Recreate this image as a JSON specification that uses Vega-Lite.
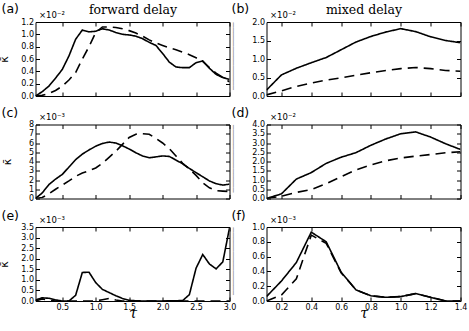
{
  "$schema": "https://vega.github.io/schema/vega-lite/v6.json",
  "autosize": {"type": "none"},
  "padding": {"left": 35.5, "top": 22, "right": 433.5, "bottom": 309},
  "background": "white",
  "datasets": {
    "a": [
      {"tau":0.1,"k":0,"s":"solid"},{"tau":0.2,"k":0.07,"s":"solid"},{"tau":0.3,"k":0.16,"s":"solid"},{"tau":0.4,"k":0.29,"s":"solid"},{"tau":0.5,"k":0.43,"s":"solid"},{"tau":0.6,"k":0.65,"s":"solid"},{"tau":0.7,"k":0.92,"s":"solid"},{"tau":0.8,"k":1.07,"s":"solid"},{"tau":0.9,"k":1.04,"s":"solid"},{"tau":1.0,"k":1.05,"s":"solid"},{"tau":1.1,"k":1.09,"s":"solid"},{"tau":1.2,"k":1.07,"s":"solid"},{"tau":1.3,"k":1.03,"s":"solid"},{"tau":1.4,"k":1.0,"s":"solid"},{"tau":1.5,"k":0.99,"s":"solid"},{"tau":1.6,"k":0.97,"s":"solid"},{"tau":1.7,"k":0.93,"s":"solid"},{"tau":1.8,"k":0.87,"s":"solid"},{"tau":1.9,"k":0.82,"s":"solid"},{"tau":2.0,"k":0.69,"s":"solid"},{"tau":2.1,"k":0.55,"s":"solid"},{"tau":2.2,"k":0.47,"s":"solid"},{"tau":2.3,"k":0.46,"s":"solid"},{"tau":2.4,"k":0.46,"s":"solid"},{"tau":2.5,"k":0.54,"s":"solid"},{"tau":2.6,"k":0.57,"s":"solid"},{"tau":2.7,"k":0.45,"s":"solid"},{"tau":2.8,"k":0.35,"s":"solid"},{"tau":2.9,"k":0.3,"s":"solid"},{"tau":3.0,"k":0.27,"s":"solid"},
      {"tau":0.1,"k":0,"s":"dashed"},{"tau":0.2,"k":0.01,"s":"dashed"},{"tau":0.3,"k":0.04,"s":"dashed"},{"tau":0.4,"k":0.09,"s":"dashed"},{"tau":0.5,"k":0.16,"s":"dashed"},{"tau":0.6,"k":0.26,"s":"dashed"},{"tau":0.7,"k":0.38,"s":"dashed"},{"tau":0.8,"k":0.6,"s":"dashed"},{"tau":0.9,"k":0.8,"s":"dashed"},{"tau":1.0,"k":1.03,"s":"dashed"},{"tau":1.1,"k":1.12,"s":"dashed"},{"tau":1.2,"k":1.12,"s":"dashed"},{"tau":1.3,"k":1.11,"s":"dashed"},{"tau":1.4,"k":1.09,"s":"dashed"},{"tau":1.5,"k":1.06,"s":"dashed"},{"tau":1.6,"k":1.02,"s":"dashed"},{"tau":1.7,"k":0.97,"s":"dashed"},{"tau":1.8,"k":0.91,"s":"dashed"},{"tau":1.9,"k":0.86,"s":"dashed"},{"tau":2.0,"k":0.82,"s":"dashed"},{"tau":2.1,"k":0.78,"s":"dashed"},{"tau":2.2,"k":0.75,"s":"dashed"},{"tau":2.3,"k":0.71,"s":"dashed"},{"tau":2.4,"k":0.67,"s":"dashed"},{"tau":2.5,"k":0.62,"s":"dashed"},{"tau":2.6,"k":0.56,"s":"dashed"},{"tau":2.7,"k":0.46,"s":"dashed"},{"tau":2.8,"k":0.37,"s":"dashed"},{"tau":2.9,"k":0.3,"s":"dashed"},{"tau":3.0,"k":0.23,"s":"dashed"}
    ],
    "b": [
      {"tau":0.1,"k":0.16,"s":"solid"},{"tau":0.2,"k":0.57,"s":"solid"},{"tau":0.3,"k":0.75,"s":"solid"},{"tau":0.4,"k":0.9,"s":"solid"},{"tau":0.5,"k":1.04,"s":"solid"},{"tau":0.6,"k":1.25,"s":"solid"},{"tau":0.7,"k":1.46,"s":"solid"},{"tau":0.8,"k":1.61,"s":"solid"},{"tau":0.9,"k":1.73,"s":"solid"},{"tau":1.0,"k":1.82,"s":"solid"},{"tau":1.1,"k":1.74,"s":"solid"},{"tau":1.2,"k":1.6,"s":"solid"},{"tau":1.3,"k":1.5,"s":"solid"},{"tau":1.4,"k":1.44,"s":"solid"},
      {"tau":0.1,"k":0.03,"s":"dashed"},{"tau":0.2,"k":0.14,"s":"dashed"},{"tau":0.3,"k":0.26,"s":"dashed"},{"tau":0.4,"k":0.35,"s":"dashed"},{"tau":0.5,"k":0.43,"s":"dashed"},{"tau":0.6,"k":0.49,"s":"dashed"},{"tau":0.7,"k":0.56,"s":"dashed"},{"tau":0.8,"k":0.63,"s":"dashed"},{"tau":0.9,"k":0.69,"s":"dashed"},{"tau":1.0,"k":0.74,"s":"dashed"},{"tau":1.1,"k":0.77,"s":"dashed"},{"tau":1.2,"k":0.74,"s":"dashed"},{"tau":1.3,"k":0.69,"s":"dashed"},{"tau":1.4,"k":0.67,"s":"dashed"}
    ],
    "c": [
      {"tau":0.1,"k":0,"s":"solid"},{"tau":0.2,"k":0.6,"s":"solid"},{"tau":0.3,"k":1.5,"s":"solid"},{"tau":0.4,"k":2.1,"s":"solid"},{"tau":0.5,"k":2.6,"s":"solid"},{"tau":0.6,"k":3.4,"s":"solid"},{"tau":0.7,"k":4.2,"s":"solid"},{"tau":0.8,"k":4.8,"s":"solid"},{"tau":0.9,"k":5.25,"s":"solid"},{"tau":1.0,"k":5.65,"s":"solid"},{"tau":1.1,"k":5.95,"s":"solid"},{"tau":1.2,"k":6.1,"s":"solid"},{"tau":1.3,"k":6.0,"s":"solid"},{"tau":1.4,"k":5.7,"s":"solid"},{"tau":1.5,"k":5.35,"s":"solid"},{"tau":1.6,"k":4.95,"s":"solid"},{"tau":1.7,"k":4.6,"s":"solid"},{"tau":1.8,"k":4.4,"s":"solid"},{"tau":1.9,"k":4.5,"s":"solid"},{"tau":2.0,"k":4.6,"s":"solid"},{"tau":2.1,"k":4.55,"s":"solid"},{"tau":2.2,"k":4.15,"s":"solid"},{"tau":2.3,"k":3.75,"s":"solid"},{"tau":2.4,"k":3.25,"s":"solid"},{"tau":2.5,"k":2.8,"s":"solid"},{"tau":2.6,"k":2.35,"s":"solid"},{"tau":2.7,"k":1.9,"s":"solid"},{"tau":2.8,"k":1.6,"s":"solid"},{"tau":2.9,"k":1.45,"s":"solid"},{"tau":3.0,"k":1.55,"s":"solid"},
      {"tau":0.1,"k":0,"s":"dashed"},{"tau":0.2,"k":0.1,"s":"dashed"},{"tau":0.3,"k":0.5,"s":"dashed"},{"tau":0.4,"k":1.0,"s":"dashed"},{"tau":0.5,"k":1.45,"s":"dashed"},{"tau":0.6,"k":1.9,"s":"dashed"},{"tau":0.7,"k":2.4,"s":"dashed"},{"tau":0.8,"k":2.75,"s":"dashed"},{"tau":0.9,"k":3.0,"s":"dashed"},{"tau":1.0,"k":3.3,"s":"dashed"},{"tau":1.1,"k":3.8,"s":"dashed"},{"tau":1.2,"k":4.45,"s":"dashed"},{"tau":1.3,"k":5.1,"s":"dashed"},{"tau":1.4,"k":5.85,"s":"dashed"},{"tau":1.5,"k":6.6,"s":"dashed"},{"tau":1.6,"k":6.95,"s":"dashed"},{"tau":1.7,"k":7.0,"s":"dashed"},{"tau":1.8,"k":6.95,"s":"dashed"},{"tau":1.9,"k":6.5,"s":"dashed"},{"tau":2.0,"k":6.0,"s":"dashed"},{"tau":2.1,"k":5.4,"s":"dashed"},{"tau":2.2,"k":4.6,"s":"dashed"},{"tau":2.3,"k":3.8,"s":"dashed"},{"tau":2.4,"k":3.2,"s":"dashed"},{"tau":2.5,"k":2.5,"s":"dashed"},{"tau":2.6,"k":1.7,"s":"dashed"},{"tau":2.7,"k":1.15,"s":"dashed"},{"tau":2.8,"k":0.85,"s":"dashed"},{"tau":2.9,"k":0.8,"s":"dashed"},{"tau":3.0,"k":0.75,"s":"dashed"}
    ],
    "d": [
      {"tau":0.1,"k":0,"s":"solid"},{"tau":0.2,"k":0.25,"s":"solid"},{"tau":0.3,"k":1.05,"s":"solid"},{"tau":0.4,"k":1.4,"s":"solid"},{"tau":0.5,"k":1.9,"s":"solid"},{"tau":0.6,"k":2.23,"s":"solid"},{"tau":0.7,"k":2.48,"s":"solid"},{"tau":0.8,"k":2.88,"s":"solid"},{"tau":0.9,"k":3.22,"s":"solid"},{"tau":1.0,"k":3.5,"s":"solid"},{"tau":1.1,"k":3.6,"s":"solid"},{"tau":1.2,"k":3.32,"s":"solid"},{"tau":1.3,"k":2.96,"s":"solid"},{"tau":1.4,"k":2.65,"s":"solid"},
      {"tau":0.1,"k":0,"s":"dashed"},{"tau":0.2,"k":0.12,"s":"dashed"},{"tau":0.3,"k":0.33,"s":"dashed"},{"tau":0.4,"k":0.48,"s":"dashed"},{"tau":0.5,"k":0.8,"s":"dashed"},{"tau":0.6,"k":1.18,"s":"dashed"},{"tau":0.7,"k":1.55,"s":"dashed"},{"tau":0.8,"k":1.82,"s":"dashed"},{"tau":0.9,"k":2.04,"s":"dashed"},{"tau":1.0,"k":2.19,"s":"dashed"},{"tau":1.1,"k":2.29,"s":"dashed"},{"tau":1.2,"k":2.38,"s":"dashed"},{"tau":1.3,"k":2.47,"s":"dashed"},{"tau":1.4,"k":2.53,"s":"dashed"}
    ],
    "e": [
      {"tau":0.1,"k":0.05,"s":"solid"},{"tau":0.2,"k":0.15,"s":"solid"},{"tau":0.3,"k":0.13,"s":"solid"},{"tau":0.4,"k":0.05,"s":"solid"},{"tau":0.5,"k":0,"s":"solid"},{"tau":0.6,"k":0,"s":"solid"},{"tau":0.7,"k":0.27,"s":"solid"},{"tau":0.8,"k":1.35,"s":"solid"},{"tau":0.9,"k":1.36,"s":"solid"},{"tau":1.0,"k":0.87,"s":"solid"},{"tau":1.1,"k":0.55,"s":"solid"},{"tau":1.2,"k":0.4,"s":"solid"},{"tau":1.3,"k":0.25,"s":"solid"},{"tau":1.4,"k":0.12,"s":"solid"},{"tau":1.5,"k":0.03,"s":"solid"},{"tau":1.6,"k":0.01,"s":"solid"},{"tau":1.7,"k":0,"s":"solid"},{"tau":2.0,"k":0,"s":"solid"},{"tau":2.3,"k":0.02,"s":"solid"},{"tau":2.4,"k":0.3,"s":"solid"},{"tau":2.5,"k":1.55,"s":"solid"},{"tau":2.6,"k":2.2,"s":"solid"},{"tau":2.7,"k":1.75,"s":"solid"},{"tau":2.8,"k":1.52,"s":"solid"},{"tau":2.9,"k":1.85,"s":"solid"},{"tau":3.0,"k":3.45,"s":"solid"},
      {"tau":0.1,"k":0,"s":"dashed"},{"tau":0.2,"k":0.1,"s":"dashed"},{"tau":0.3,"k":0.04,"s":"dashed"},{"tau":0.4,"k":0,"s":"dashed"},{"tau":1.0,"k":0,"s":"dashed"},{"tau":1.1,"k":0.06,"s":"dashed"},{"tau":1.2,"k":0.12,"s":"dashed"},{"tau":1.3,"k":0.05,"s":"dashed"},{"tau":1.4,"k":0,"s":"dashed"},{"tau":3.0,"k":0,"s":"dashed"}
    ],
    "f": [
      {"tau":0.1,"k":0.06,"s":"solid"},{"tau":0.2,"k":0.27,"s":"solid"},{"tau":0.3,"k":0.52,"s":"solid"},{"tau":0.4,"k":0.93,"s":"solid"},{"tau":0.5,"k":0.8,"s":"solid"},{"tau":0.6,"k":0.39,"s":"solid"},{"tau":0.7,"k":0.15,"s":"solid"},{"tau":0.8,"k":0.07,"s":"solid"},{"tau":0.9,"k":0.05,"s":"solid"},{"tau":1.0,"k":0.06,"s":"solid"},{"tau":1.1,"k":0.1,"s":"solid"},{"tau":1.2,"k":0.05,"s":"solid"},{"tau":1.3,"k":0,"s":"solid"},{"tau":1.4,"k":0,"s":"solid"},
      {"tau":0.1,"k":0,"s":"dashed"},{"tau":0.2,"k":0.08,"s":"dashed"},{"tau":0.3,"k":0.3,"s":"dashed"},{"tau":0.4,"k":0.89,"s":"dashed"},{"tau":0.5,"k":0.78,"s":"dashed"},{"tau":0.6,"k":0.38,"s":"dashed"},{"tau":0.7,"k":0.15,"s":"dashed"},{"tau":0.8,"k":0.07,"s":"dashed"},{"tau":0.9,"k":0.05,"s":"dashed"},{"tau":1.0,"k":0.06,"s":"dashed"},{"tau":1.1,"k":0.1,"s":"dashed"},{"tau":1.2,"k":0.05,"s":"dashed"},{"tau":1.3,"k":0,"s":"dashed"},{"tau":1.4,"k":0,"s":"dashed"}
    ]
  },
  "bounds": "flush",
  "columns": 2,
  "spacing": {"row": 28.5, "column": 37},
  "concat": [
    {
      "width": 194, "height": 74,
      "data": {"name": "a"},
      "title": {"text": "(a)", "dx": -34, "dy": 16.5},
      "layer": [
        {"mark": {"type": "line", "color": "black", "strokeWidth": 1.6, "clip": true},
         "encoding": {
           "x": {"field": "tau", "type": "quantitative", "scale": {"domain": [0.1, 3.0], "nice": false, "zero": false}, "axis": {"orient": "bottom", "values": [0.5,1,1.5,2,2.5,3], "labels": false, "title": null}},
           "y": {"field": "k", "type": "quantitative", "scale": {"domain": [0, 1.2], "nice": false}, "axis": {"orient": "left", "values": [0,0.2,0.4,0.6,0.8,1.0,1.2], "format": ".1f", "title": "κ̄", "titlePadding": 11}},
           "strokeDash": {"field": "s", "type": "nominal", "scale": {"domain": ["solid","dashed"], "range": [[1,0],[10,6]]}, "legend": null}
         }},
        {"mark": {"type": "line", "opacity": 0},
         "encoding": {
           "x": {"field": "tau", "type": "quantitative", "axis": {"orient": "top", "values": [0.5,1,1.5,2,2.5,3], "title": "forward delay"}},
           "y": {"field": "k", "type": "quantitative", "axis": {"orient": "right", "values": [0,0.2,0.4,0.6,0.8,1.0,1.2], "title": "×10⁻²", "titleX": -191, "titleY": -5}}
         }}
      ]
    },
    {
      "width": 194, "height": 74,
      "data": {"name": "b"},
      "title": {"text": "(b)", "dx": -35, "dy": 16.5},
      "layer": [
        {"mark": {"type": "line", "color": "black", "strokeWidth": 1.6, "clip": true},
         "encoding": {
           "x": {"field": "tau", "type": "quantitative", "scale": {"domain": [0.1, 1.4], "nice": false, "zero": false}, "axis": {"orient": "bottom", "values": [0.2,0.4,0.6,0.8,1.0,1.2,1.4], "labels": false, "title": null}},
           "y": {"field": "k", "type": "quantitative", "scale": {"domain": [0, 2.0], "nice": false}, "axis": {"orient": "left", "values": [0,0.5,1.0,1.5,2.0], "format": ".1f", "title": "──────────────", "titleFont": "DejaVu Sans Mono", "titleFontSize": 8, "titleColor": "#888888", "titleAnchor": "end", "titlePadding": 14}},
           "strokeDash": {"field": "s", "type": "nominal", "scale": {"domain": ["solid","dashed"], "range": [[1,0],[10,6]]}, "legend": null}
         }},
        {"mark": {"type": "line", "opacity": 0},
         "encoding": {
           "x": {"field": "tau", "type": "quantitative", "axis": {"orient": "top", "values": [0.2,0.4,0.6,0.8,1.0,1.2,1.4], "title": "mixed delay"}},
           "y": {"field": "k", "type": "quantitative", "axis": {"orient": "right", "values": [0,0.5,1.0,1.5,2.0], "title": "×10⁻²", "titleX": -191, "titleY": -5}}
         }}
      ]
    },
    {
      "width": 194, "height": 74,
      "data": {"name": "c"},
      "title": {"text": "(c)", "dx": -34, "dy": 11},
      "layer": [
        {"mark": {"type": "line", "color": "black", "strokeWidth": 1.6, "clip": true},
         "encoding": {
           "x": {"field": "tau", "type": "quantitative", "scale": {"domain": [0.1, 3.0], "nice": false, "zero": false}, "axis": {"orient": "bottom", "values": [0.5,1,1.5,2,2.5,3], "labels": false, "title": null}},
           "y": {"field": "k", "type": "quantitative", "scale": {"domain": [0, 8], "nice": false}, "axis": {"orient": "left", "values": [0,1,2,3,4,5,6,7,8], "format": "d", "title": "κ̄", "titlePadding": 16}},
           "strokeDash": {"field": "s", "type": "nominal", "scale": {"domain": ["solid","dashed"], "range": [[1,0],[10,6]]}, "legend": null}
         }},
        {"mark": {"type": "line", "opacity": 0},
         "encoding": {
           "x": {"field": "tau", "type": "quantitative", "axis": {"orient": "top", "values": [0.5,1,1.5,2,2.5,3], "title": null}},
           "y": {"field": "k", "type": "quantitative", "axis": {"orient": "right", "values": [0,1,2,3,4,5,6,7,8], "title": "×10⁻³", "titleX": -191, "titleY": -5}}
         }}
      ]
    },
    {
      "width": 194, "height": 74,
      "data": {"name": "d"},
      "title": {"text": "(d)", "dx": -35, "dy": 11},
      "layer": [
        {"mark": {"type": "line", "color": "black", "strokeWidth": 1.6, "clip": true},
         "encoding": {
           "x": {"field": "tau", "type": "quantitative", "scale": {"domain": [0.1, 1.4], "nice": false, "zero": false}, "axis": {"orient": "bottom", "values": [0.2,0.4,0.6,0.8,1.0,1.2,1.4], "labels": false, "title": null}},
           "y": {"field": "k", "type": "quantitative", "scale": {"domain": [0, 4.0], "nice": false}, "axis": {"orient": "left", "values": [0,0.5,1.0,1.5,2.0,2.5,3.0,3.5,4.0], "format": ".1f", "title": "──────────────", "titleFont": "DejaVu Sans Mono", "titleFontSize": 8, "titleColor": "#888888", "titleAnchor": "end", "titlePadding": 14}},
           "strokeDash": {"field": "s", "type": "nominal", "scale": {"domain": ["solid","dashed"], "range": [[1,0],[10,6]]}, "legend": null}
         }},
        {"mark": {"type": "line", "opacity": 0},
         "encoding": {
           "x": {"field": "tau", "type": "quantitative", "axis": {"orient": "top", "values": [0.2,0.4,0.6,0.8,1.0,1.2,1.4], "title": null}},
           "y": {"field": "k", "type": "quantitative", "axis": {"orient": "right", "values": [0,0.5,1.0,1.5,2.0,2.5,3.0,3.5,4.0], "title": "×10⁻²", "titleX": -191, "titleY": -5}}
         }}
      ]
    },
    {
      "width": 194, "height": 74,
      "data": {"name": "e"},
      "title": {"text": "(e)", "dx": -34, "dy": 11},
      "layer": [
        {"mark": {"type": "line", "color": "black", "strokeWidth": 1.6, "clip": true},
         "encoding": {
           "x": {"field": "tau", "type": "quantitative", "scale": {"domain": [0.1, 3.0], "nice": false, "zero": false}, "axis": {"orient": "bottom", "values": [0.5,1,1.5,2,2.5,3], "format": ".1f", "title": "τ"}},
           "y": {"field": "k", "type": "quantitative", "scale": {"domain": [0, 3.5], "nice": false}, "axis": {"orient": "left", "values": [0,0.5,1.0,1.5,2.0,2.5,3.0,3.5], "format": ".1f", "title": "κ̄", "titlePadding": 11}},
           "strokeDash": {"field": "s", "type": "nominal", "scale": {"domain": ["solid","dashed"], "range": [[1,0],[10,6]]}, "legend": null}
         }},
        {"mark": {"type": "line", "opacity": 0},
         "encoding": {
           "x": {"field": "tau", "type": "quantitative", "axis": {"orient": "top", "values": [0.5,1,1.5,2,2.5,3], "title": null}},
           "y": {"field": "k", "type": "quantitative", "axis": {"orient": "right", "values": [0,0.5,1.0,1.5,2.0,2.5,3.0,3.5], "title": "×10⁻³", "titleX": -191, "titleY": -5}}
         }}
      ]
    },
    {
      "width": 194, "height": 74,
      "data": {"name": "f"},
      "title": {"text": "(f)", "dx": -35, "dy": 11},
      "layer": [
        {"mark": {"type": "line", "color": "black", "strokeWidth": 1.6, "clip": true},
         "encoding": {
           "x": {"field": "tau", "type": "quantitative", "scale": {"domain": [0.1, 1.4], "nice": false, "zero": false}, "axis": {"orient": "bottom", "values": [0.2,0.4,0.6,0.8,1.0,1.2,1.4], "format": ".1f", "title": "τ"}},
           "y": {"field": "k", "type": "quantitative", "scale": {"domain": [0, 1.0], "nice": false}, "axis": {"orient": "left", "values": [0,0.2,0.4,0.6,0.8,1.0], "format": ".1f", "title": "──────────────", "titleFont": "DejaVu Sans Mono", "titleFontSize": 8, "titleColor": "#888888", "titleAnchor": "end", "titlePadding": 14}},
           "strokeDash": {"field": "s", "type": "nominal", "scale": {"domain": ["solid","dashed"], "range": [[1,0],[10,6]]}, "legend": null}
         }},
        {"mark": {"type": "line", "opacity": 0},
         "encoding": {
           "x": {"field": "tau", "type": "quantitative", "axis": {"orient": "top", "values": [0.2,0.4,0.6,0.8,1.0,1.2,1.4], "title": null}},
           "y": {"field": "k", "type": "quantitative", "axis": {"orient": "right", "values": [0,0.2,0.4,0.6,0.8,1.0], "title": "×10⁻³", "titleX": -191, "titleY": -5}}
         }}
      ]
    }
  ],
  "config": {
    "view": {"stroke": "black", "strokeWidth": 1},
    "axis": {"domain": false, "grid": false, "tickSize": -4, "tickColor": "black", "tickWidth": 1, "labelFont": "DejaVu Sans", "labelFontSize": 8, "labelColor": "black", "labelPadding": 6, "labelFlush": false, "labelOverlap": false, "titleColor": "black", "titleFontWeight": "normal"},
    "axisLeft": {"titleFont": "DejaVu Sans", "titleFontSize": 11},
    "axisBottom": {"labelPadding": 6.5, "titleFont": "DejaVu Serif", "titleFontStyle": "italic", "titleFontSize": 14, "titlePadding": -5.5},
    "axisTop": {"labels": false, "titleFont": "DejaVu Serif", "titleFontSize": 12.5, "titlePadding": 5.5},
    "axisRight": {"labels": false, "titleFont": "DejaVu Sans", "titleFontSize": 8.5, "titleAngle": 0, "titleAlign": "left", "titleBaseline": "alphabetic"},
    "title": {"anchor": "start", "frame": "group", "font": "DejaVu Sans", "fontSize": 12.5, "fontWeight": "normal", "color": "black", "offset": 0}
  }
}
